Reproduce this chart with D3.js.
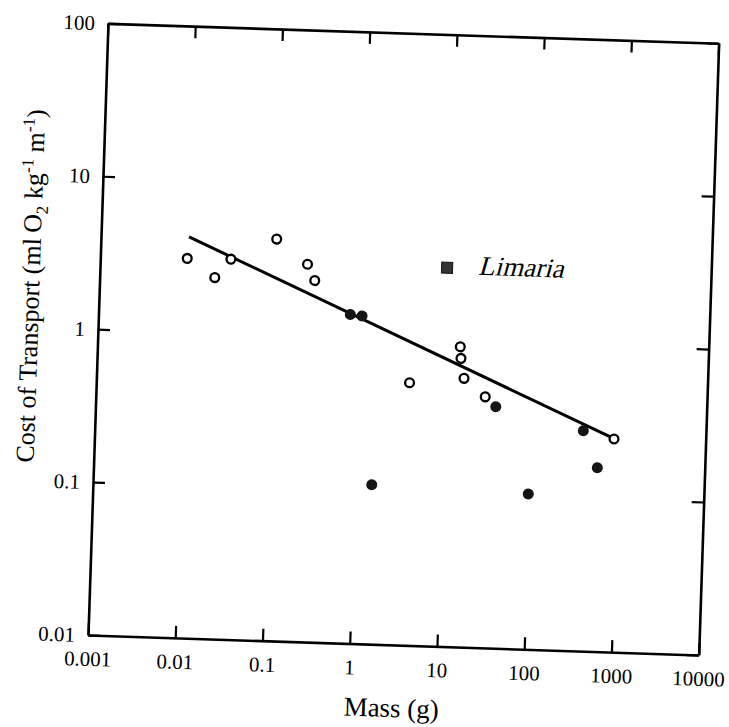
<!DOCTYPE html>
<html>
<head>
<meta charset="utf-8">
<script src="https://cdn.jsdelivr.net/npm/d3@7"></script>
<style>
body { margin: 0; background: #fff; }
svg { display: block; }
</style>
</head>
<body>
<svg id="svg1" width="729" height="727"></svg>
<script>
// values
var openMass = [0.0099, 0.0208, 0.0313, 0.103, 0.237, 0.291, 3.87, 14.3, 14.7, 16.2, 28.8, 891];
var openCost = [3.03, 2.30, 3.06, 4.23, 2.94, 2.31, 0.520, 0.916, 0.770, 0.571, 0.437, 0.247];
var filledMass = [0.766, 1.044, 1.56, 38.4, 97.4, 394, 588];
var filledCost = [1.41, 1.39, 0.110, 0.378, 0.1035, 0.275, 0.159];
var limariaMass = [9.43];
var limariaCost = [2.99];
var fitMass = [0.0102, 867];
var fitCost = [4.19, 0.25];

var xTicks = [0.001, 0.01, 0.1, 1, 10, 100, 1000, 10000];
var xTickLabels = ["0.001", "0.01", "0.1", "1", "10", "100", "1000", "10000"];
var yTicks = [0.01, 0.1, 1, 10, 100];
var yTickLabels = ["0.01", "0.1", "1", "10", "100"];

var W = 611, H = 612;
var serif = "Liberation Serif, Times New Roman, serif";

var x = d3.scaleLog().domain([0.001, 10000]).range([0, W]);
var y = d3.scaleLog().domain([0.01, 100]).range([H, 0]);

// the scan is slightly tilted, so the whole plot is turned a little
var g = d3.select("#svg1")
    .append("g")
    .attr("transform", "translate(88,635) rotate(1.87) translate(0," + (-H) + ")");

function styleAxis(sel) {
    sel.attr("font-family", serif).attr("font-size", 21);
    sel.select(".domain").attr("stroke-width", 2.6);
    sel.selectAll(".tick line").attr("stroke-width", 2.2);
    sel.selectAll(".tick text").attr("fill", "#000");
}

g.append("g")
    .attr("transform", "translate(0," + H + ")")
    .call(d3.axisBottom(x).tickValues(xTicks).tickFormat(function(d, i) { return xTickLabels[i]; })
        .tickSize(-12).tickSizeOuter(0).tickPadding(16))
    .call(styleAxis);

g.append("g")
    .call(d3.axisTop(x).tickValues(xTicks).tickFormat("").tickSize(-12).tickSizeOuter(0))
    .call(styleAxis);

g.append("g")
    .call(d3.axisLeft(y).tickValues(yTicks).tickFormat(function(d, i) { return yTickLabels[i]; })
        .tickSize(-12).tickSizeOuter(0).tickPadding(13))
    .call(styleAxis);

g.append("g")
    .attr("transform", "translate(" + W + ",0)")
    .call(d3.axisRight(y).tickValues(yTicks).tickFormat("").tickSize(-12).tickSizeOuter(0))
    .call(styleAxis);

// fitted line
g.append("path")
    .datum(fitMass.map(function(m, i) { return [m, fitCost[i]]; }))
    .attr("d", d3.line().x(function(d) { return x(d[0]); }).y(function(d) { return y(d[1]); }))
    .attr("fill", "none")
    .attr("stroke", "#000")
    .attr("stroke-width", 3);

g.selectAll("circle.open")
    .data(openMass)
    .enter()
    .append("circle")
    .attr("class", "open")
    .attr("cx", function(d) { return x(d); })
    .attr("cy", function(d, i) { return y(openCost[i]); })
    .attr("r", 4.4)
    .attr("fill", "#fff")
    .attr("stroke", "#000")
    .attr("stroke-width", 2.3);

g.selectAll("circle.filled")
    .data(filledMass)
    .enter()
    .append("circle")
    .attr("class", "filled")
    .attr("cx", function(d) { return x(d); })
    .attr("cy", function(d, i) { return y(filledCost[i]); })
    .attr("r", 5.5)
    .attr("fill", "#151515");

g.selectAll("rect.limaria")
    .data(limariaMass)
    .enter()
    .append("rect")
    .attr("class", "limaria")
    .attr("x", function(d) { return x(d) - 5.5; })
    .attr("y", function(d, i) { return y(limariaCost[i]) - 5.5; })
    .attr("width", 11)
    .attr("height", 11)
    .attr("fill", "#333")
    .attr("stroke", "#111")
    .attr("stroke-width", 1);

// no serif italic face installed, so the upright serif is slanted by hand
g.append("text")
    .text("Limaria")
    .attr("transform", "translate(" + (x(limariaMass[0]) + 31) + "," + (y(limariaCost[0]) + 6) + ") skewX(-14)")
    .attr("font-family", serif)
    .attr("font-size", 27);

g.append("text")
    .text("Mass (g)")
    .attr("x", W / 2)
    .attr("y", H + 72)
    .attr("text-anchor", "middle")
    .attr("font-family", serif)
    .attr("font-size", 27);

var yl = g.append("text")
    .attr("transform", "translate(-60,265) rotate(-90)")
    .attr("text-anchor", "middle")
    .attr("font-family", serif)
    .attr("font-size", 26);
yl.append("tspan").text("Cost of Transport (ml\u2009O");
yl.append("tspan").text("2").attr("font-size", 17).attr("dy", 6);
yl.append("tspan").text(" kg").attr("dy", -6);
yl.append("tspan").text("-1").attr("font-size", 17).attr("dy", -10);
yl.append("tspan").text(" m").attr("dy", 10);
yl.append("tspan").text("-1").attr("font-size", 17).attr("dy", -10);
yl.append("tspan").text(")").attr("dy", 10);
</script>
</body>
</html>
